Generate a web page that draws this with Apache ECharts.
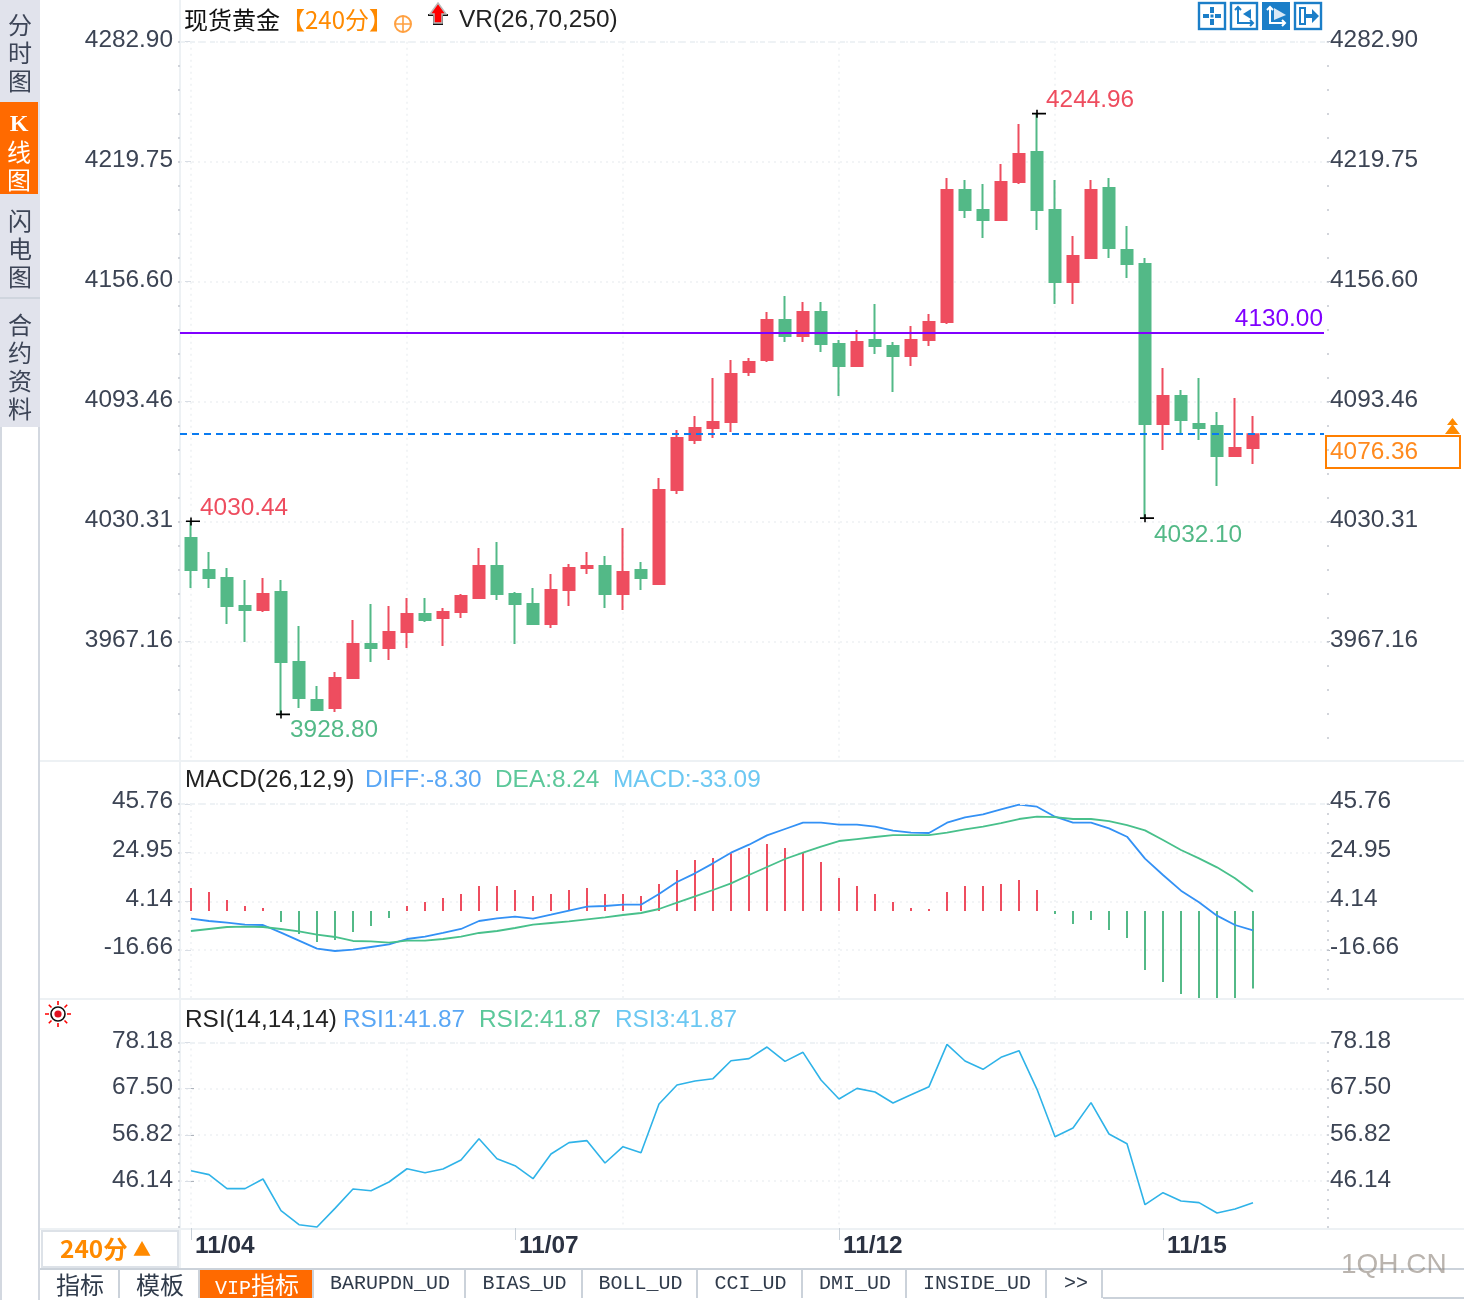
<!DOCTYPE html>
<html lang="zh">
<head>
<meta charset="UTF-8">
<title>现货黄金 240分</title>
<script src="https://cdn.jsdelivr.net/npm/echarts@6/dist/echarts.min.js"></script>
<style>
    html, body { margin: 0; background: #fff; }
    #page { position: relative; width: 1464px; height: 1300px; overflow: hidden; font-family: "Liberation Sans", "Noto Sans CJK SC", sans-serif; font-size: 24.4px; color: #222; }
    #chart { position: absolute; left: 0; top: 0; width: 1464px; height: 1300px; z-index: 1; }
    .bar { position: absolute; background: #edf1f4; z-index: 0; }
    .txt { position: absolute; white-space: nowrap; line-height: 28px; z-index: 2; }
    .side { position: absolute; left: 0; width: 40px; text-align: center; line-height: 28px; font-size: 24px; color: #3d4557; font-family: "Noto Sans CJK SC", sans-serif; z-index: 2; }
    .tab { position: absolute; top: 1270px; height: 28px; line-height: 28px; text-align: center; padding-left: 2px; color: #2f3a4a; border-right: 2px solid #cbd2da; box-sizing: border-box; z-index: 2; font-family: "Liberation Mono", "Noto Sans CJK SC", monospace; font-size: 20px; }
    .cjk { font-family: "Noto Sans CJK SC", sans-serif; font-size: 24px; }
    svg { position: absolute; z-index: 2; overflow: visible; }
</style>
</head>
<body>
<div id="page">
    <!-- 分隔线 -->
    <div class="bar" style="left:40px;top:760px;width:1424px;height:2px"></div>
    <div class="bar" style="left:40px;top:998px;width:1424px;height:2px"></div>
    <div class="bar" style="left:40px;top:1228px;width:1424px;height:2px"></div>
    <div class="bar" style="left:179px;top:0;width:2px;height:1268px"></div>
    <div class="bar" style="left:40px;top:1268px;width:1424px;height:2px;background:#cbd2da"></div>
    <div class="bar" style="left:1103px;top:1297px;width:361px;height:2px;background:#cbd2da"></div>

    <!-- 左侧栏 -->
    <div class="bar" style="left:0;top:0;width:40px;height:427px;background:#e1e3ec"></div>
    <div class="bar" style="left:0;top:427px;width:2px;height:873px;background:#d3d8e0"></div>
    <div class="bar" style="left:38px;top:427px;width:2px;height:873px;background:#d3d8e0"></div>
    <div class="bar" style="left:0;top:102px;width:38px;height:92px;background:#ff6a00"></div>
    <div class="bar" style="left:0;top:297px;width:40px;height:2px;background:#cfd5de"></div>
    <div class="side" style="top:10px">分<br>时<br>图</div>
    <div class="side" style="top:107px;color:#fff;width:38px"><span style="font-family:'Liberation Serif';font-weight:bold">K</span><br>线<br>图</div>
    <div class="side" style="top:206px">闪<br>电<br>图</div>
    <div class="side" style="top:310px">合<br>约<br>资<br>料</div>

    <!-- 标题行 -->
    <div class="txt cjk" style="left:184px;top:5px;color:#111">现货黄金</div>
    <div class="txt cjk" style="left:281px;top:5px;color:#ff8a00">【240分】</div>
    <svg style="left:394px;top:15px" width="18" height="18"><circle cx="9" cy="9" r="8" fill="none" stroke="#ffa040" stroke-width="2"/><path d="M1 9H17M9 1V17" stroke="#ffa040" stroke-width="1.6"/></svg>
    <svg style="left:428px;top:3px" width="22" height="22"><path d="M0 12H20M6 12V21H14V12" fill="none" stroke="#111" stroke-width="2"/><path d="M10 0L18 11H14V20H6V11H2Z" fill="#f00" stroke="#bbb" stroke-width="1.5"/></svg>
    <div class="txt" style="left:459px;top:5px;color:#222">VR(26,70,250)</div>
    <div class="txt" style="left:185px;top:765px;color:#222">MACD(26,12,9)</div>
    <div class="txt" style="left:365px;top:765px;color:#5aa7f5">DIFF:-8.30</div>
    <div class="txt" style="left:495px;top:765px;color:#5cc89a">DEA:8.24</div>
    <div class="txt" style="left:613px;top:765px;color:#6cc8f2">MACD:-33.09</div>
    <div class="txt" style="left:185px;top:1005px;color:#222">RSI(14,14,14)</div>
    <div class="txt" style="left:343px;top:1005px;color:#5aa7f5">RSI1:41.87</div>
    <div class="txt" style="left:479px;top:1005px;color:#5cc89a">RSI2:41.87</div>
    <div class="txt" style="left:615px;top:1005px;color:#6cc8f2">RSI3:41.87</div>

    <!-- 右上角按钮 -->
    <svg style="left:1198px;top:2px" width="28" height="28"><rect x="1" y="1" width="26" height="26" fill="#fff" stroke="#1b7ec8" stroke-width="2.4"/><path d="M12 5h4v6h-4zM12 17h4v6h-4zM5 12h6v4H5zM17 12h6v4h-6zM12.5 12.5h3v3h-3z" fill="#1b7ec8"/></svg>
    <svg style="left:1230px;top:2px" width="28" height="28"><rect x="1" y="1" width="26" height="26" fill="#fff" stroke="#1b7ec8" stroke-width="2.4"/><path d="M8 5V21H23M5 8L8 5L11 8M20 18L23 21L20 24" fill="none" stroke="#1b7ec8" stroke-width="2"/><path d="M21 7V17L13 12Z" fill="#1b7ec8"/></svg>
    <svg style="left:1262px;top:2px" width="28" height="28"><rect x="0" y="0" width="28" height="28" fill="#1b7ec8"/><path d="M8 5V21H23M5 8L8 5L11 8M20 18L23 21L20 24" fill="none" stroke="#fff" stroke-width="2"/><path d="M12 6L24 13L12 18Z" fill="#d8e8f6"/></svg>
    <svg style="left:1294px;top:2px" width="28" height="28"><rect x="1" y="1" width="26" height="26" fill="#fff" stroke="#1b7ec8" stroke-width="2.4"/><path d="M6 6H11V22H6Z" fill="none" stroke="#1b7ec8" stroke-width="2"/><path d="M11 12H18V7L25 14L18 21V16H11Z" fill="#1b7ec8"/></svg>

    <!-- 最新价 -->
    <div class="txt" style="left:1325px;top:435px;width:136px;height:34px;box-sizing:border-box;border:2px solid #ff7f00;line-height:28px;padding-left:3px;color:#ff8a1e">4076.36</div>
    <svg style="left:1445px;top:418px" width="15" height="17"><path d="M7.5 0L13 7H2ZM7.5 6L15 16H0Z" fill="#ff8a00"/></svg>

    <!-- 底部 -->
    <svg style="left:44px;top:1000px" width="28" height="28"><path d="M14 1V5M14 23V27M1 14H5M23 14H27M4.8 4.8L7.5 7.5M20.5 20.5L23.2 23.2M4.8 23.2L7.5 20.5M20.5 7.5L23.2 4.8" stroke="#f00" stroke-width="1.6"/><circle cx="14" cy="14" r="7" fill="#fff" stroke="#111" stroke-width="1.6"/><circle cx="14" cy="14" r="3.6" fill="#e01020"/></svg>
    <div class="bar" style="left:41px;top:1230px;width:138px;height:38px;background:#fff;box-shadow:inset 0 0 0 2px #dde2e8"></div>
    <div class="txt" style="left:60px;top:1234px;color:#ff8a00;font-weight:bold;font-family:'Noto Sans CJK SC'">240分 <span style="font-size:18px;position:relative;top:-2px">▲</span></div>
    <div class="tab cjk" style="left:40px;width:80px">指标</div>
    <div class="tab cjk" style="left:120px;width:80px">模板</div>
    <div class="tab" style="left:200px;width:114px;background:#ff6a00;color:#fff">VIP<span class="cjk">指标</span></div>
    <div class="tab" style="left:314px;width:152px">BARUPDN_UD</div>
    <div class="tab" style="left:466px;width:117px">BIAS_UD</div>
    <div class="tab" style="left:583px;width:115px">BOLL_UD</div>
    <div class="tab" style="left:698px;width:105px">CCI_UD</div>
    <div class="tab" style="left:803px;width:104px">DMI_UD</div>
    <div class="tab" style="left:907px;width:140px">INSIDE_UD</div>
    <div class="tab" style="left:1047px;width:56px;padding-left:4px">&gt;&gt;</div>
    <div class="txt" style="left:1341px;top:1250px;font-size:28px;color:rgba(140,130,120,0.6)">1QH.CN</div>

    <div id="chart"></div>
</div>

<script>
    var dateLabels = ['11/04', '11/07', '11/12', '11/15'];
    var dateIndexes = [0, 18, 36, 54];
    var gridIndexes = [0, 12, 24, 36, 48];

    var priceTicks = [3967.16, 4030.31, 4093.46, 4156.60, 4219.75, 4282.90];
    var macdTicks = [-16.66, 4.14, 24.95, 45.76];
    var rsiTicks = [46.14, 56.82, 67.50, 78.18];

    var lastPrice = 4076.36;
    var resistPrice = 4130.00;

    // open, close, low, high
    var candles = [
        [4021.73, 4004.89, 3995.42, 4030.44], [4004.89, 4000.68, 3995.42, 4014.36], [4000.68, 3985.94, 3976.47, 4005.94],
        [3985.94, 3983.84, 3967.00, 3999.63], [3983.84, 3992.26, 3982.79, 4000.68], [3993.31, 3956.48, 3928.80, 3999.63],
        [3956.48, 3937.53, 3932.27, 3975.42], [3936.48, 3931.22, 3931.22, 3943.85], [3932.27, 3948.06, 3930.16, 3951.21],
        [3948.06, 3965.95, 3948.06, 3978.58], [3965.95, 3963.84, 3956.48, 3986.98], [3963.84, 3972.26, 3957.53, 3985.94],
        [3972.26, 3981.73, 3963.84, 3990.15], [3981.73, 3978.58, 3977.53, 3990.15], [3979.63, 3982.79, 3964.90, 3984.89],
        [3982.79, 3991.21, 3979.63, 3992.26], [3990.15, 4007.00, 3990.15, 4016.47], [4007.00, 3992.26, 3989.10, 4019.62],
        [3992.26, 3986.98, 3965.95, 3993.31], [3986.98, 3976.47, 3976.47, 3995.42], [3976.47, 3994.36, 3974.37, 4002.78],
        [3994.36, 4005.94, 3985.94, 4008.05], [4005.94, 4007.00, 4002.78, 4014.36], [4007.00, 3992.26, 3984.89, 4012.26],
        [3992.26, 4003.84, 3983.84, 4026.99], [4004.89, 4000.68, 3994.36, 4009.10], [3997.52, 4046.99, 3997.52, 4053.31],
        [4046.98, 4074.35, 4044.88, 4078.56], [4073.30, 4079.61, 4071.19, 4085.93], [4079.61, 4082.77, 4074.35, 4105.92],
        [4082.77, 4108.03, 4077.51, 4115.40], [4109.08, 4114.34, 4106.98, 4116.45], [4115.40, 4136.44, 4114.34, 4140.65],
        [4136.44, 4128.02, 4124.87, 4149.07], [4128.02, 4140.65, 4124.87, 4145.91], [4140.65, 4123.81, 4119.60, 4145.91],
        [4123.81, 4112.24, 4096.45, 4125.92], [4112.24, 4124.87, 4112.24, 4131.18], [4125.92, 4122.76, 4118.55, 4144.86],
        [4122.76, 4117.50, 4098.55, 4124.87], [4117.50, 4125.92, 4112.24, 4133.29], [4125.92, 4135.39, 4122.76, 4139.60],
        [4135.39, 4204.85, 4134.34, 4211.17], [4204.85, 4194.33, 4190.12, 4210.12], [4194.33, 4189.07, 4179.60, 4208.01],
        [4189.07, 4209.06, 4189.07, 4218.54], [4209.06, 4223.80, 4208.01, 4239.59], [4224.85, 4194.33, 4183.80, 4244.96],
        [4194.33, 4156.44, 4144.86, 4210.12], [4156.44, 4170.13, 4144.87, 4180.65], [4169.08, 4204.86, 4169.08, 4210.12],
        [4205.91, 4174.34, 4169.08, 4211.17], [4173.29, 4165.92, 4158.55, 4185.91], [4165.92, 4081.72, 4032.10, 4169.08],
        [4081.72, 4096.46, 4068.04, 4111.19], [4096.46, 4083.83, 4075.93, 4099.62], [4081.72, 4079.62, 4073.30, 4105.93],
        [4080.67, 4064.89, 4049.10, 4088.04], [4064.89, 4069.09, 4064.89, 4095.40], [4069.09, 4076.36, 4060.67, 4085.93]
    ];

    var macdHist = [
        9.84, 8.13, 4.70, 2.14, 1.29, -4.70, -9.83, -13.25, -12.40, -8.97, -6.41, -2.99,
        2.14, 3.85, 5.56, 7.27, 10.69, 10.69, 8.98, 6.42, 7.27, 8.98, 9.84, 7.27,
        7.27, 6.42, 11.55, 17.53, 21.81, 22.66, 24.66, 26.94, 28.65, 26.94, 25.23, 20.95,
        14.11, 10.69, 7.27, 3.85, 1.29, 0.85, 8.13, 10.69, 10.69, 11.55, 13.26, 8.98,
        -1.28, -5.56, -3.85, -8.12, -11.54, -25.22, -30.35, -35.48, -38.6, -40.2, -38.9, -33.09
    ];
    var macdDiff = [
        -3.28, -4.27, -4.98, -5.84, -5.98, -9.26, -12.68, -16.10, -17.10, -16.53, -15.39, -14.25,
        -11.97, -10.97, -9.40, -7.69, -4.27, -3.13, -2.42, -3.28, -1.57, 0.15, 1.86, 2.14,
        2.71, 2.71, 7.27, 12.40, 16.11, 20.38, 24.94, 28.36, 32.35, 35.06, 37.77, 37.77,
        36.91, 36.91, 36.06, 34.35, 33.49, 33.35, 37.77, 40.05, 41.33, 43.47, 45.46, 44.61,
        40.33, 37.77, 37.77, 35.35, 31.78, 22.38, 15.40, 8.70, 3.71, -1.99, -5.98, -8.30
    ];
    var macdDea = [
        -8.55, -7.69, -6.84, -6.70, -6.84, -7.69, -8.69, -10.12, -11.11, -12.82, -12.97, -13.54,
        -12.68, -12.68, -11.97, -10.97, -9.40, -8.55, -7.27, -5.84, -5.13, -4.41, -3.56, -2.70,
        -1.71, -0.85, 0.86, 3.57, 6.27, 8.98, 11.83, 15.40, 18.81, 22.23, 24.94, 27.51,
        29.93, 30.78, 31.64, 32.49, 32.49, 32.49, 33.49, 34.92, 36.06, 37.63, 39.34, 40.33,
        40.19, 39.34, 39.34, 38.48, 36.77, 34.49, 30.36, 26.08, 22.52, 18.67, 13.97, 8.24
    ];
    var rsiValues = [
        48.53, 47.61, 44.37, 44.37, 46.60, 39.28, 36.03, 35.49, 39.81, 44.29, 43.90, 45.91,
        48.98, 48.07, 48.92, 51.00, 55.94, 51.31, 49.69, 46.68, 52.39, 55.02, 55.48, 50.31,
        54.09, 52.70, 63.97, 68.36, 69.29, 69.83, 73.98, 74.46, 77.16, 73.84, 75.93, 69.52,
        65.12, 67.59, 66.74, 64.20, 66.13, 67.98, 77.78, 73.92, 71.99, 74.77, 76.31, 67.36,
        56.40, 58.41, 64.28, 57.02, 54.78, 40.66, 43.44, 41.51, 41.13, 38.73, 39.66, 41.13
    ];

    // index 0 sits at x=191, one candle every 18px; the plot runs from x=180 to x=1327
    var xMin = -11 / 18;
    var xMax = 1136 / 18;
    var lineEnd = 1133 / 18;
    var gridLineColor = '#eef1f3';
    var textColor = '#3c4454';
    var red = '#ee4d5f';
    var green = '#53b987';
    var labelSize = 24.4;

    function withIndex(values) {
        return values.map(function (v, i) { return [i].concat(v); });
    }

    function fifths(ticks, min) {
        var step = (ticks[1] - ticks[0]) / 5;
        var out = [];
        for (var v = ticks[ticks.length - 1]; v >= min; v -= step) out.push(v);
        return out;
    }

    function xAxisFor(gridIndex) {
        return {
            type: 'value', gridIndex: gridIndex, min: xMin, max: xMax, position: 'bottom',
            axisLine: { show: false }, axisLabel: { show: false },
            axisTick: { show: false, customValues: gridIndexes },
            splitLine: { show: true, lineStyle: { color: gridLineColor, width: 1.5, type: [2, 4] } }
        };
    }

    // labelShift: the labels sit a little above their grid line
    function yAxesFor(gridIndex, ticks, min, max, labelShift) {
        var label = {
            customValues: ticks, color: textColor, fontSize: labelSize, fontFamily: 'Liberation Sans',
            verticalAlign: 'bottom', lineHeight: labelShift * 2, hideOverlap: false,
            formatter: function (v) { return v.toFixed(2); }
        };
        var base = { type: 'value', gridIndex: gridIndex, min: min, max: max, axisLine: { show: false } };
        return [
            Object.assign({}, base, {
                position: 'left',
                axisLabel: Object.assign({}, label, { margin: 7 }),
                axisTick: { customValues: ticks, length: 6, lineStyle: { color: '#d9dee5', width: 1 } },
                splitLine: { show: true, lineStyle: { color: gridLineColor, width: 1.5, type: [2, 4] } }
            }),
            Object.assign({}, base, {
                position: 'right',
                axisLabel: Object.assign({}, label, { margin: 3 }),
                axisTick: { customValues: ticks, length: 3, lineStyle: { color: '#aeb4bc', width: 1 } },
                splitLine: { show: false }
            }),
            // short minor ticks, five per interval
            Object.assign({}, base, {
                position: 'left', axisLabel: { show: false }, splitLine: { show: false },
                axisTick: { customValues: fifths(ticks, min), length: 2, lineStyle: { color: '#c3c8cf', width: 1.5 } }
            }),
            Object.assign({}, base, {
                position: 'right', axisLabel: { show: false }, splitLine: { show: false },
                axisTick: { customValues: fifths(ticks, min), length: 2, lineStyle: { color: '#c3c8cf', width: 1.5 } }
            })
        ];
    }

    function topLine(value) {
        return { yAxis: value, lineStyle: { color: '#eef2f5', width: 2, type: [5, 5] }, label: { show: false } };
    }

    function extreme(index, value, color, labelDy) {
        return {
            coord: [index, value], value: value.toFixed(2),
            label: { show: true, position: 'right', distance: 0, offset: [0, labelDy], color: color, fontSize: labelSize, fontFamily: 'Liberation Sans' }
        };
    }

    var chart = echarts.init(document.getElementById('chart'));

    var priceMin = 3904.91;
    var macdMin = -37.2;
    var rsiMin = 35.26;

    chart.setOption({
        animation: false,
        grid: [
            { left: 180, width: 1147, top: 41.7, height: 718.3 },
            { left: 180, width: 1147, top: 804, height: 194 },
            { left: 180, width: 1147, top: 1042.6, height: 185.4 }
        ],
        xAxis: [
            xAxisFor(0),
            xAxisFor(1),
            xAxisFor(2),
            {
                type: 'value', gridIndex: 2, min: xMin, max: xMax, position: 'bottom',
                axisLine: { show: false }, splitLine: { show: false },
                axisTick: { customValues: dateIndexes, length: 12, lineStyle: { color: '#c8d0d8', width: 1 } },
                axisLabel: {
                    customValues: dateIndexes, align: 'left', margin: 6, padding: [0, 0, 0, 4],
                    color: '#2b3242', fontSize: labelSize, fontWeight: 'bold', fontFamily: 'Liberation Sans',
                    formatter: function (v) { return dateLabels[dateIndexes.indexOf(v)]; }
                }
            }
        ],
        yAxis: [].concat(
            yAxesFor(0, priceTicks, priceMin, priceTicks[priceTicks.length - 1], 1.5),
            yAxesFor(1, macdTicks, macdMin, macdTicks[macdTicks.length - 1], 2.5),
            yAxesFor(2, rsiTicks, rsiMin, rsiTicks[rsiTicks.length - 1], 1)
        ),
        series: [
            {
                name: 'K', type: 'candlestick', xAxisIndex: 0, yAxisIndex: 0,
                data: withIndex(candles),
                barWidth: 12,
                itemStyle: { color: red, color0: green, borderColor: red, borderColor0: green, borderWidth: 2 },
                markLine: {
                    silent: true, symbol: 'none', animation: false,
                    data: [
                        topLine(priceTicks[priceTicks.length - 1]),
                        [
                            {
                                coord: [xMin, resistPrice],
                                lineStyle: { color: '#8000ff', width: 2, type: 'solid' },
                                label: { show: true, position: 'insideEndTop', distance: 1, formatter: resistPrice.toFixed(2), color: '#8000ff', fontSize: labelSize, fontFamily: 'Liberation Sans' }
                            },
                            { coord: [lineEnd, resistPrice] }
                        ],
                        [
                            {
                                coord: [xMin, lastPrice],
                                lineStyle: { color: '#0a7bf0', width: 2, type: [7, 5] },
                                label: { show: false }
                            },
                            { coord: [lineEnd, lastPrice] }
                        ]
                    ]
                },
                markPoint: {
                    silent: true, animation: false,
                    symbol: 'path://M0,3H14V4.6H0ZM4.2,0H5.8V8H4.2Z',
                    symbolSize: [14, 8], symbolOffset: [2, 0],
                    itemStyle: { color: '#000' },
                    data: [
                        extreme(0, 4030.44, red, -13),
                        extreme(5, 3928.80, green, 16),
                        extreme(47, 4244.96, red, -14),
                        extreme(53, 4032.10, green, 17)
                    ]
                }
            },
            {
                name: 'MACD', type: 'bar', xAxisIndex: 1, yAxisIndex: 4,
                data: withIndex(macdHist), barWidth: 2,
                itemStyle: { color: function (p) { return p.value[1] >= 0 ? red : green; } }
            },
            {
                name: 'DIFF', type: 'line', xAxisIndex: 1, yAxisIndex: 4,
                data: withIndex(macdDiff), symbol: 'none',
                lineStyle: { color: '#3391f5', width: 1.8 },
                markLine: { silent: true, symbol: 'none', animation: false, data: [topLine(macdTicks[macdTicks.length - 1])] }
            },
            {
                name: 'DEA', type: 'line', xAxisIndex: 1, yAxisIndex: 4,
                data: withIndex(macdDea), symbol: 'none',
                lineStyle: { color: '#48c08b', width: 1.8 }
            },
            {
                name: 'RSI', type: 'line', xAxisIndex: 2, yAxisIndex: 8,
                data: withIndex(rsiValues), symbol: 'none',
                lineStyle: { color: '#2fb3e8', width: 1.6 },
                markLine: { silent: true, symbol: 'none', animation: false, data: [topLine(rsiTicks[rsiTicks.length - 1])] }
            }
        ]
    });
</script>
</body>
</html>
